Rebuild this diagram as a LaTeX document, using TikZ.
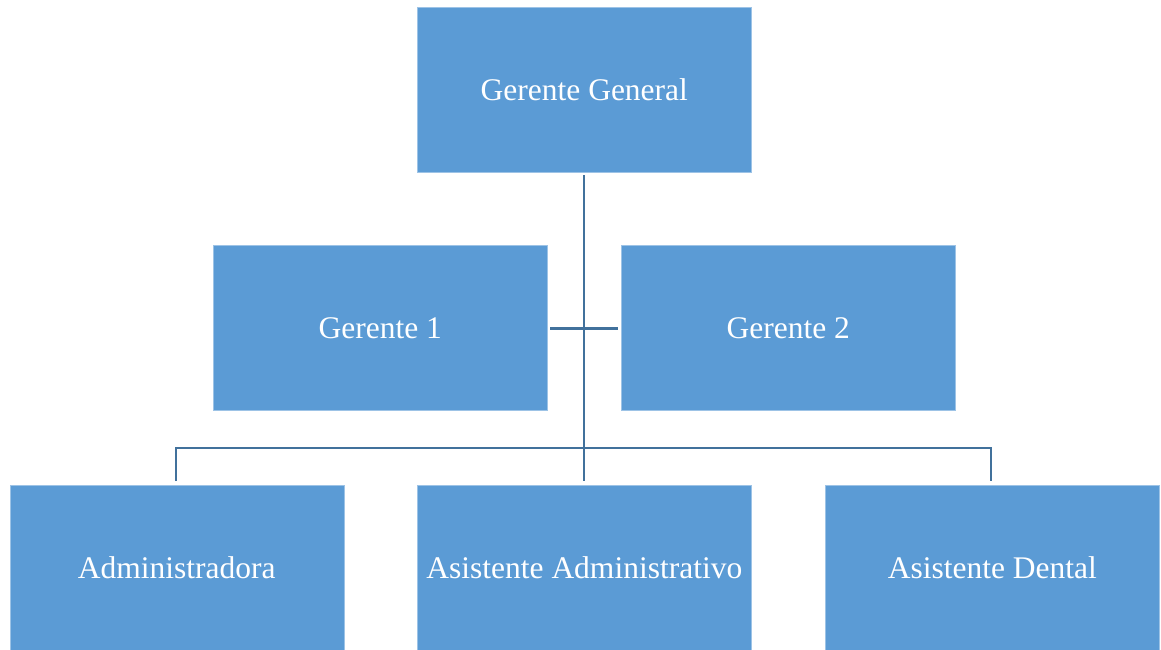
\documentclass[tikz,border=0pt]{standalone}
\usepackage{fontspec}
\setmainfont{Liberation Serif}
\definecolor{boxblue}{HTML}{5B9BD5}
\definecolor{lineblue}{HTML}{41719C}
\begin{document}
\begin{tikzpicture}[x=1pt,y=-1pt,
  orgbox/.style={fill=boxblue, draw=boxblue!60!white, line width=0.6pt, minimum width=334pt, minimum height=165pt, inner sep=0pt, text=white, font=\fontsize{31.5}{36}\selectfont, anchor=north west},
  conn/.style={draw=lineblue, line width=2.6pt}]
\useasboundingbox (0,0) rectangle (1161,649);
\node[orgbox] (gg) at (417,7) {Gerente General};
\node[orgbox] (g1) at (213,245) {Gerente 1};
\node[orgbox] (g2) at (621,245) {Gerente 2};
\node[orgbox] (adm) at (9.5,484.5) {Administradora};
\node[orgbox] (asa) at (417,484.5) {Asistente Administrativo};
\node[orgbox] (asd) at (825,484.5) {Asistente Dental};
\coordinate (top) at (584,175);
\coordinate (bot) at (584,481);
\coordinate (hl) at (550,328.5);
\coordinate (hr) at (618,328.5);
\coordinate (bl) at (176,448);
\coordinate (br) at (991,448);
\coordinate (bld) at (176,481);
\coordinate (brd) at (991,481);
\draw[conn] (top) -- (bot);
\draw[conn] (hl) -- (hr);
\draw[conn] (bld) -- (bl) -- (br) -- (brd);
\end{tikzpicture}
\end{document}
